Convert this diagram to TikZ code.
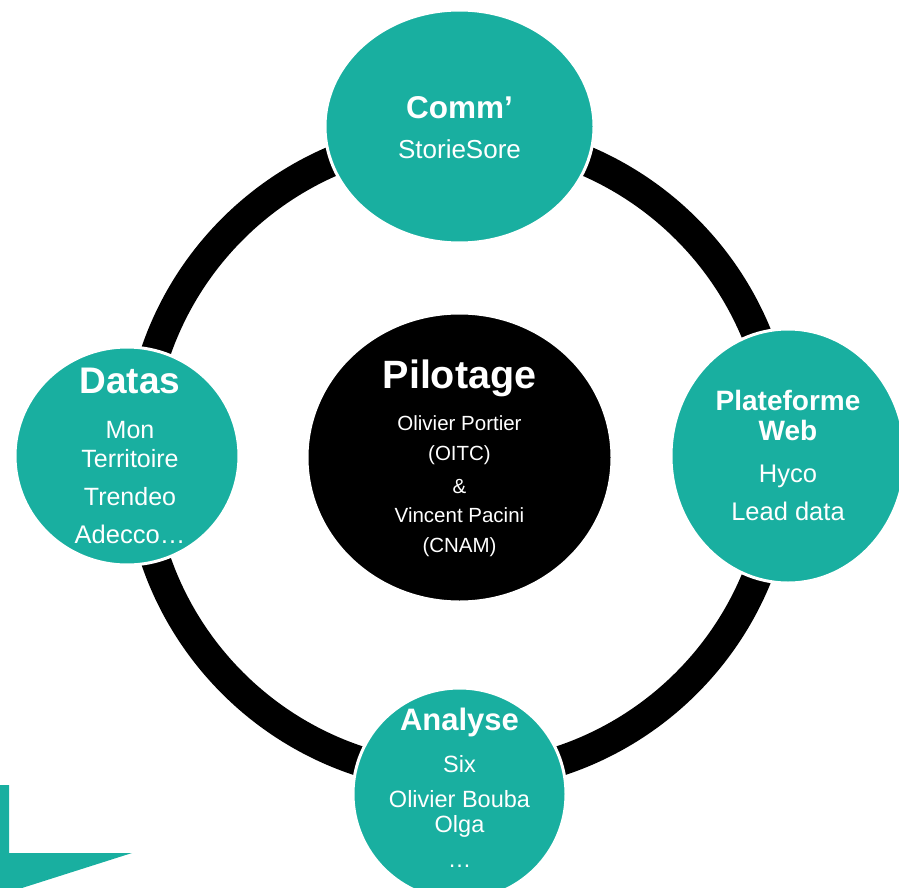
\documentclass[tikz,border=0pt]{standalone}
\usepackage{fontspec}
\setmainfont{Liberation Sans}
\usetikzlibrary{shapes.geometric}
\definecolor{teal1}{HTML}{19AFA0}
\tikzset{
  bubble/.style={ellipse, fill=teal1, draw=white, line width=3pt, inner sep=0pt},
  hub/.style={ellipse, fill=black, draw=white, line width=3pt, inner sep=0pt},
  txt/.style={anchor=base, text=white, inner sep=0pt},
}
\newcommand{\fs}[1]{\fontsize{#1}{#1}\selectfont}
\begin{document}
\begin{tikzpicture}[x=1pt,y=-1pt]
\useasboundingbox (0,0) rectangle (899,888);
% ring
\coordinate (ringc) at (459.5,456);
\draw[line width=30pt] (ringc) circle[radius=321];
% corner shape
\fill[teal1] (0,785) -- (9,785) -- (9,853) -- (132,853) -- (22,888) -- (0,888) -- cycle;
% nodes
\node[hub, minimum width=305pt, minimum height=289pt] (pil) at (459.5,457.5) {};
\node[bubble, minimum width=269pt, minimum height=233pt] (comm) at (459.5,126.5) {};
\node[bubble, minimum width=224pt, minimum height=218pt] (datas) at (127,456) {};
\node[bubble, minimum width=234pt, minimum height=254pt] (web) at (788,456) {};
\node[bubble, minimum width=213pt, minimum height=212pt] (ana) at (459.5,794) {};
% texts
\node[txt, font=\fs{31.5}\bfseries] (t1) at (459.5,118) {Comm’};
\node[txt, font=\fs{26}] (t2) at (459.5,158) {StorieSore};

\node[txt, font=\fs{37}\bfseries] (t3) at (130,393) {Datas};
\node[txt, font=\fs{25}] (t4) at (130,438) {Mon};
\node[txt, font=\fs{25}] (t5) at (130,467) {Territoire};
\node[txt, font=\fs{25}] (t6) at (130,505) {Trendeo};
\node[txt, font=\fs{25.5}] (t7) at (130,543) {Adecco…};

\node[txt, font=\fs{28}\bfseries] (t8) at (788,410) {Plateforme};
\node[txt, font=\fs{28}\bfseries] (t9) at (788,440) {Web};
\node[txt, font=\fs{25.5}] (t10) at (788,482) {Hyco};
\node[txt, font=\fs{25.5}] (t11) at (788,520) {Lead data};

\node[txt, font=\fs{31}\bfseries] (t12) at (459.5,730) {Analyse};
\node[txt, font=\fs{23.5}] (t13) at (459.5,772) {Six};
\node[txt, font=\fs{23.5}] (t14) at (459.5,807) {Olivier Bouba};
\node[txt, font=\fs{23.5}] (t15) at (459.5,832) {Olga};
\node[txt, font=\fs{23.5}] (t16) at (459.5,867) {…};

\node[txt, font=\fs{39.5}\bfseries] (t17) at (459.5,388) {Pilotage};
\node[txt, font=\fs{20.5}] (t18) at (459.5,430) {Olivier Portier};
\node[txt, font=\fs{20.5}] (t19) at (459.5,460) {(OITC)};
\node[txt, font=\fs{20.5}] (t20) at (459.5,493) {\&};
\node[txt, font=\fs{20.5}] (t21) at (459.5,522) {Vincent Pacini};
\node[txt, font=\fs{20.5}] (t22) at (459.5,552) {(CNAM)};
\end{tikzpicture}
\end{document}
